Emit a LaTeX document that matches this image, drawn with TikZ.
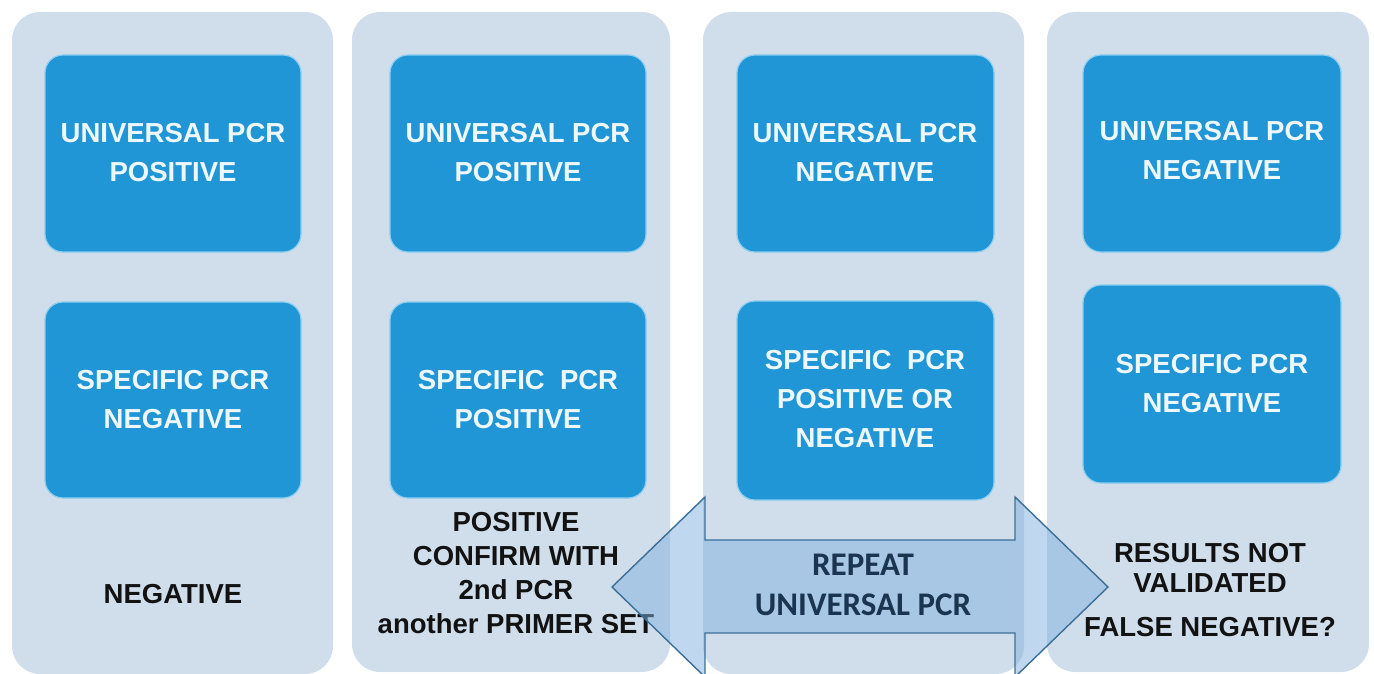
\documentclass[tikz,border=0pt]{standalone}
\usepackage{fontspec}
\setmainfont{Liberation Sans}
\newfontfamily\arrowfont{Carlito}
\begin{document}
\definecolor{panelbg}{HTML}{D0DEEC}
\definecolor{boxblue}{HTML}{2196D6}
\definecolor{boxedge}{HTML}{8ACDF0}
\definecolor{boxtext}{HTML}{EEF8FC}
\definecolor{arrowfill}{HTML}{7FB2DF}
\definecolor{arrowedge}{HTML}{3B6E96}
\definecolor{arrowtext}{HTML}{1B3550}
\begin{tikzpicture}[x=1pt,y=-1pt,
  panel/.style={fill=panelbg, draw=none, rounded corners=28pt},
  resbox/.style={fill=boxblue, draw=boxedge, line width=1.2pt, rounded corners=18pt},
  boxlabel/.style={text=boxtext, font=\bfseries\fontsize{27.5}{39}\selectfont, align=center, inner sep=0pt},
  outcome/.style={text=black!93, font=\bfseries\fontsize{27.5}{33.7}\selectfont, align=center, inner sep=0pt},
  arrowlabel/.style={text=arrowtext, font=\arrowfont\bfseries\fontsize{33}{40}\selectfont, align=center, inner sep=0pt}]
\useasboundingbox (0,0) rectangle (1374,674);
\clip (0,0) rectangle (1374,674);

% background panels, one per outcome column
\fill[panel] (12,12) rectangle (333,674);
\fill[panel] (352,12) rectangle (670,672);
\fill[panel] (703,12) rectangle (1024,674);
\fill[panel] (1047,12) rectangle (1369,672);

% column 1
\draw[resbox] (45,55) rectangle (301,252);
\node[boxlabel] (u1) at (173,153) {UNIVERSAL PCR\\POSITIVE};
\draw[resbox] (45,302) rectangle (301,498);
\node[boxlabel] (s1) at (173,400) {SPECIFIC PCR\\NEGATIVE};
\node[outcome] (o1) at (173,594) {NEGATIVE};

% column 2
\draw[resbox] (390,55) rectangle (646,252);
\node[boxlabel] (u2) at (518,153) {UNIVERSAL PCR\\POSITIVE};
\draw[resbox] (390,302) rectangle (646,498);
\node[boxlabel] (s2) at (518,400) {SPECIFIC\ \ PCR\\POSITIVE};
\node[outcome] (o2) at (516,573) {POSITIVE\\CONFIRM WITH\\2nd PCR\\another PRIMER SET};

% column 3
\draw[resbox] (737,55) rectangle (994,252);
\node[boxlabel] (u3) at (865,153) {UNIVERSAL PCR\\NEGATIVE};
\draw[resbox] (737,301) rectangle (994,500);
\node[boxlabel] (s3) at (865,399) {SPECIFIC\ \ PCR\\POSITIVE OR\\NEGATIVE};

% column 4
\draw[resbox] (1083,55) rectangle (1341,252);
\node[boxlabel] (u4) at (1212,151) {UNIVERSAL PCR\\NEGATIVE};
\draw[resbox] (1083,285) rectangle (1341,483);
\node[boxlabel] (s4) at (1212,384) {SPECIFIC PCR\\NEGATIVE};
\node[outcome] (o4a) at (1210,568) {RESULTS NOT\\[-3pt]VALIDATED};
\node[outcome] (o4b) at (1210,627) {FALSE NEGATIVE?};

% double-headed arrow across the lower row
\draw[fill=arrowfill, fill opacity=0.5, draw=arrowedge, line width=1.4pt, line join=miter]
  (612,587) -- (705,497) -- (705,540) -- (1015,540) -- (1015,497)
  -- (1108,587) -- (1015,677) -- (1015,633) -- (705,633) -- (705,677) -- cycle;
\node[arrowlabel] (rep) at (863,585) {REPEAT\\UNIVERSAL PCR};
\end{tikzpicture}
\end{document}
